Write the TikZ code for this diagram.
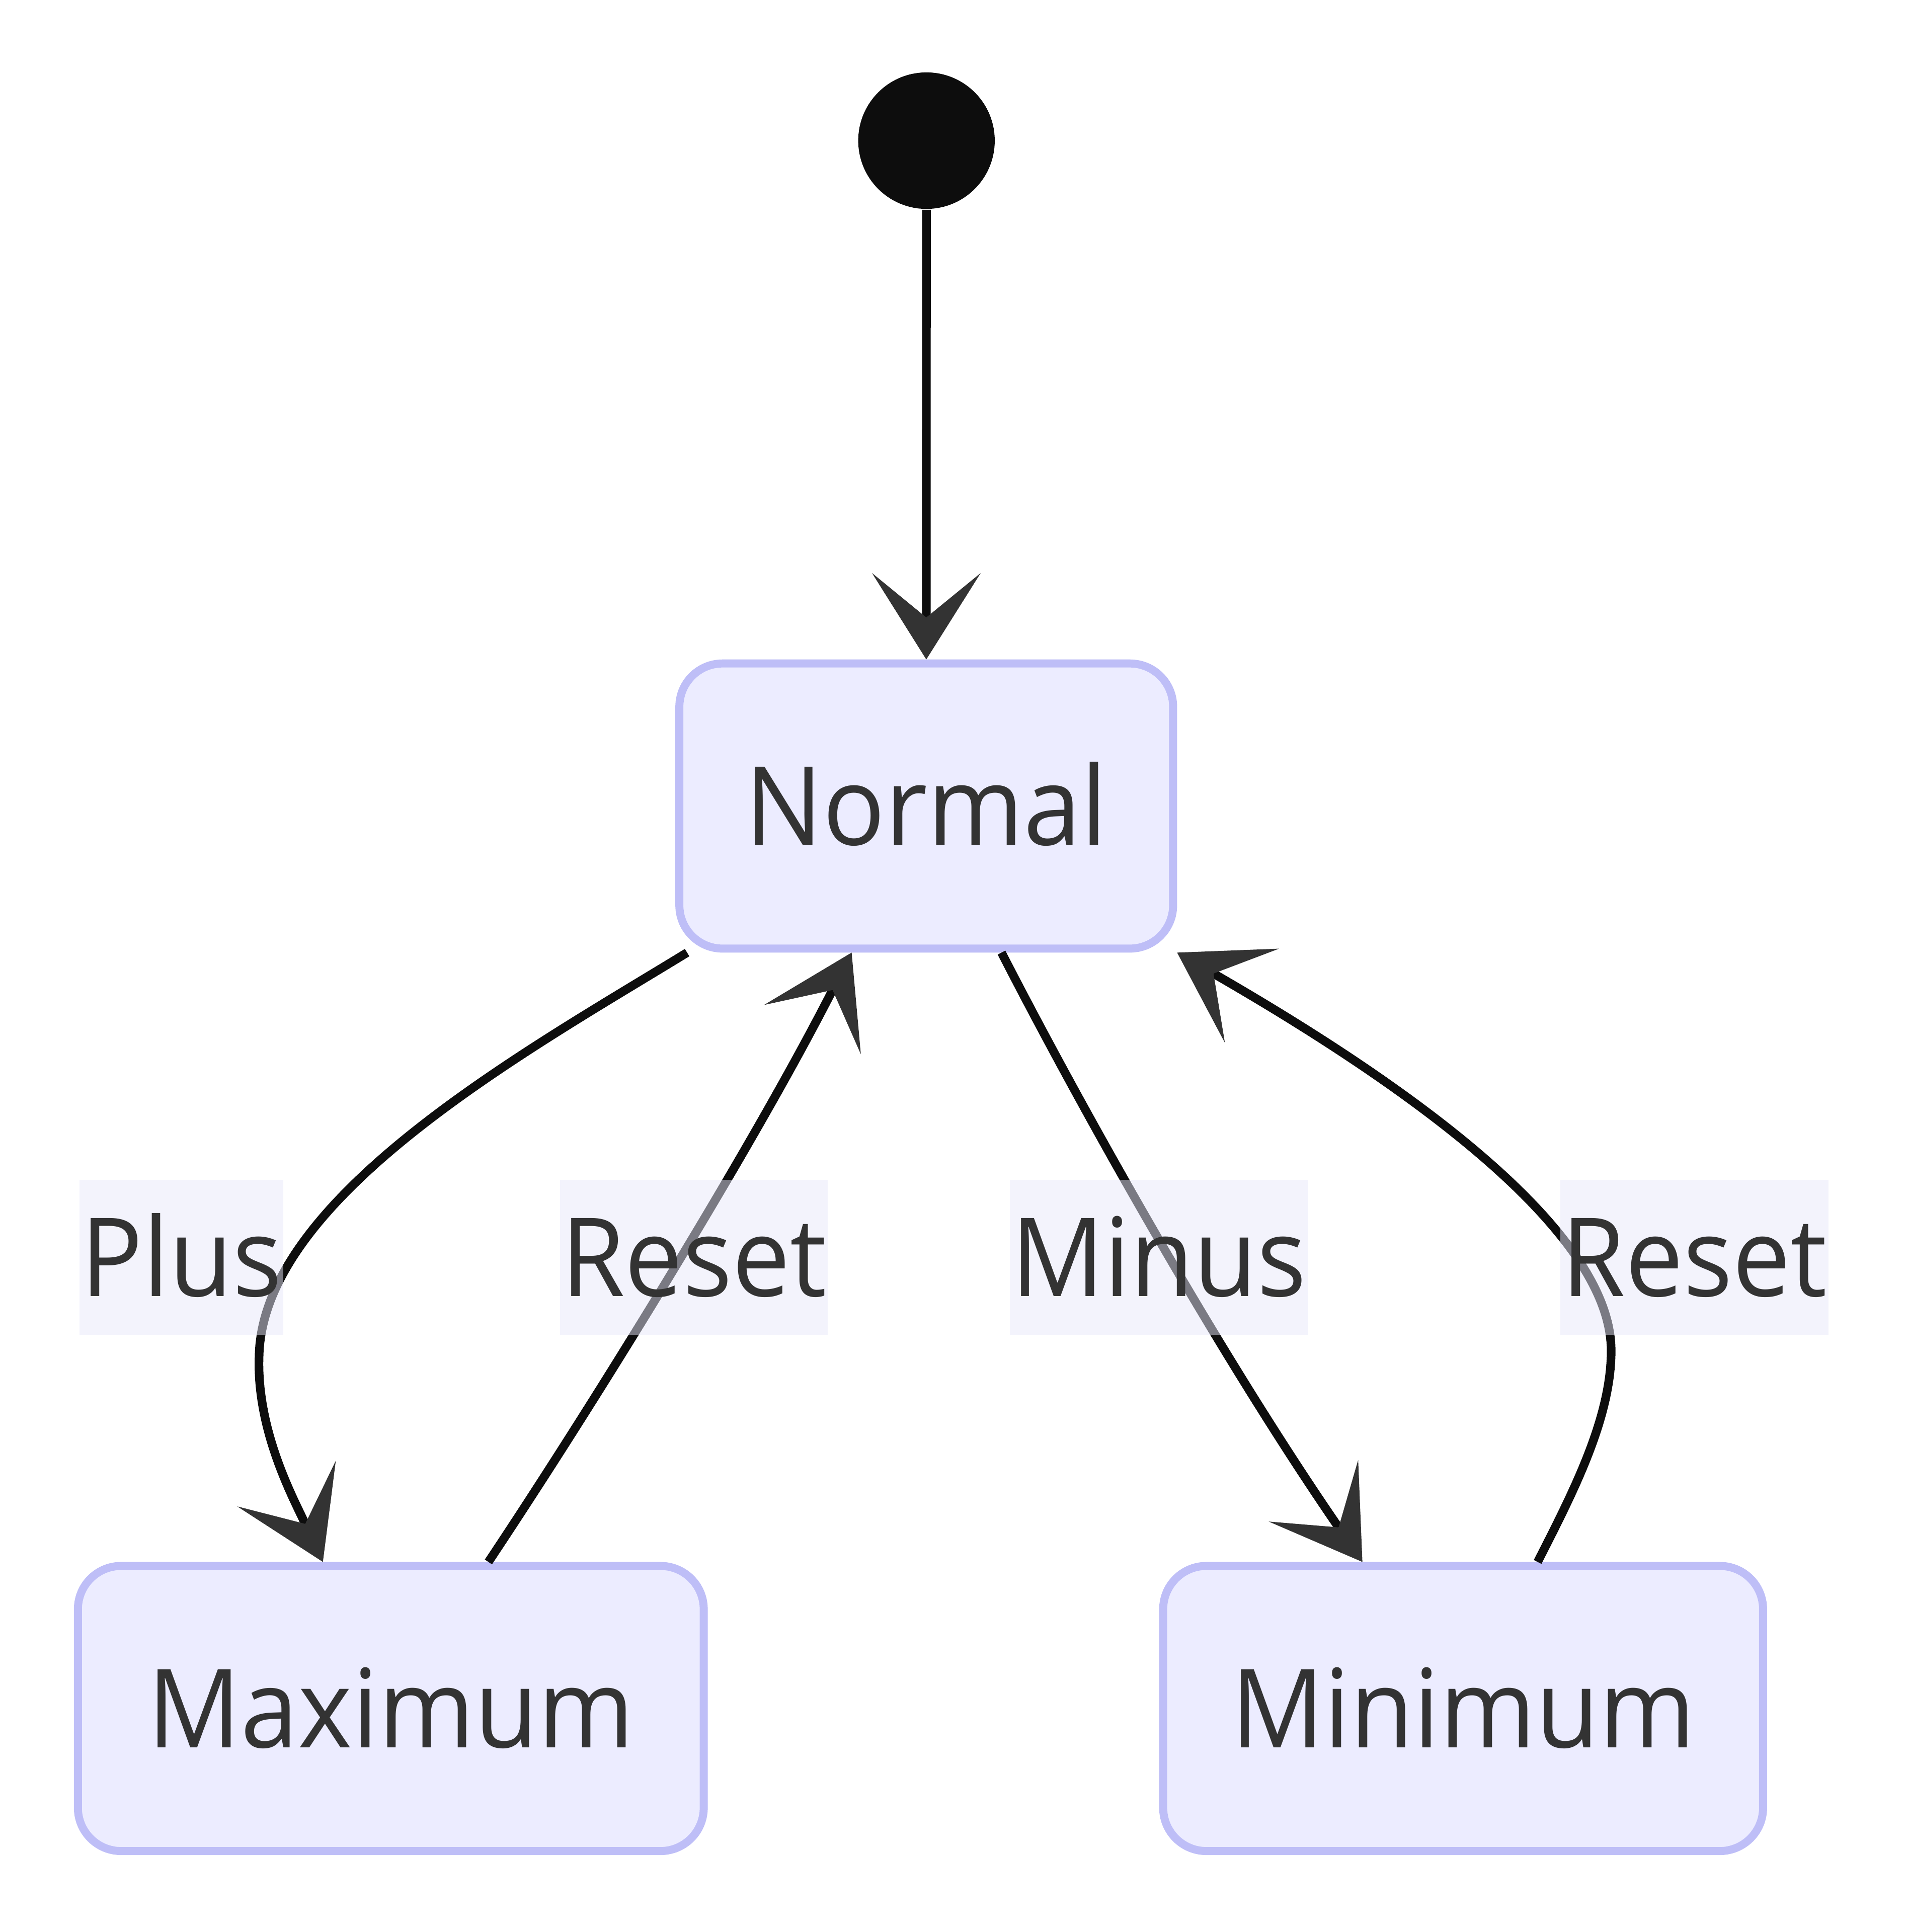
\documentclass[tikz,border=0pt]{standalone}
\usepackage{fontspec}
\setmainfont{Open Sans}[FakeStretch=0.945]
\usepackage{tikz}
\usetikzlibrary{arrows.meta}
\definecolor{statefill}{HTML}{ECECFF}
\definecolor{stateline}{HTML}{BEBEF7}
\definecolor{inkgray}{HTML}{333333}
\definecolor{wireblack}{HTML}{0D0D0D}
\definecolor{labelfill}{RGB}{232,232,250}
\tikzset{
	statebox/.style={draw=stateline, fill=statefill, line width=0.065cm, rounded corners=0.35cm, minimum height=2.31cm, text height=0.633cm, text depth=0pt, text=inkgray, font=\fontsize{25.2}{30}\selectfont},
	startdot/.style={circle, fill=wireblack, inner sep=0pt, minimum size=1.106cm},
	transition/.style={draw=wireblack, line width=0.07cm, -{Stealth[length=0.70cm, width=0.88cm, inset=0.36cm, line width=0pt, color=inkgray]}},
	edgelabel/.style={fill=labelfill, fill opacity=0.5, text opacity=1, text=inkgray, inner xsep=0.01cm, minimum height=1.255cm, text height=0.633cm, text depth=0pt, font=\fontsize{25.2}{30}\selectfont},
}

\begin{document}
\begin{tikzpicture}[x=0.01cm, y=-0.01cm]
		%%%%% START %%%%%
		
		\useasboundingbox (0, 0) rectangle (1545, 1566.2);
		
		\node[startdot] (start) at (751, 114) {};
		
		\node[statebox, minimum width=4.00cm] (normal) at (750.8, 653.4) {Normal};
		\node[statebox, minimum width=5.07cm] (maximum) at (316.8, 1385) {Maximum};
		\node[statebox, minimum width=4.86cm] (minimum) at (1186, 1385) {Minimum};
		
		\draw[transition] (start) -- (normal);
		
		\draw[transition] (normal) .. controls (430, 850) and (212, 970) .. (210, 1100) .. controls (208, 1160) and (238, 1215) .. (maximum);
		\draw[transition] (maximum) .. controls (480, 1140) and (610, 930) .. (normal);
		
		\draw[transition] (normal) .. controls (880, 905) and (990, 1100) .. (minimum);
		\draw[transition] (minimum) .. controls (1275, 1210) and (1306, 1150) .. (1306, 1095) .. controls (1306, 1000) and (1150, 885) .. (normal.south east);
		
		\node[edgelabel] (plus) at (147, 1019.3) {Plus};
		\node[edgelabel] (resetmax) at (562.4, 1019.3) {Reset};
		\node[edgelabel] (minus) at (939.3, 1019.3) {Minus};
		\node[edgelabel] (resetmin) at (1373.5, 1019.3) {Reset};
		
		%%%%% END %%%%%
\end{tikzpicture}
\end{document}
